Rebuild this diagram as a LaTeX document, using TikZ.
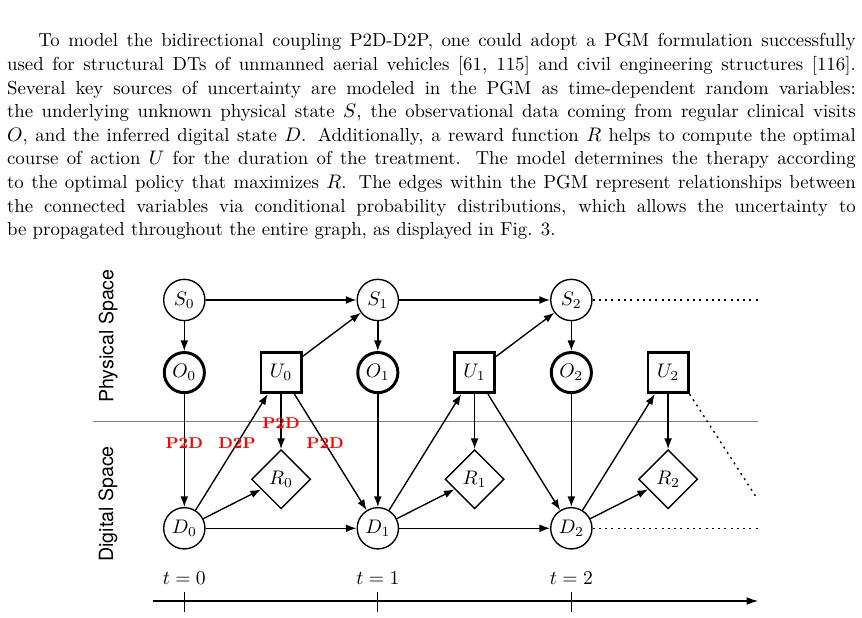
\documentclass[tikz,border=0pt]{standalone}
\usepackage{amsmath}
\usepackage{fontspec}
\usepackage{tikz}
\usetikzlibrary{calc}
\usetikzlibrary{arrows.meta}
\usetikzlibrary{shapes.geometric}
\newfontfamily\heros{TeX Gyre Heros}
\tikzset{
	state/.style={circle, draw, line width=0.7pt, minimum size=0.74cm, inner sep=0pt},
	obs/.style={circle, draw, line width=1.5pt, minimum size=0.72cm, inner sep=0pt},
	act/.style={rectangle, draw, line width=1.5pt, minimum size=0.72cm, inner sep=0pt},
	rew/.style={diamond, draw, line width=0.7pt, minimum size=1.06cm, inner sep=0pt},
	edge/.style={-{Latex[length=5.4pt, width=4pt]}, line width=0.7pt},
	link/.style={font=\footnotesize\bfseries, text=red, inner sep=1pt},
	cont/.style={line width=0.7pt, dash pattern=on 1pt off 2.2pt},
}

\begin{document}
\begin{tikzpicture}
			\useasboundingbox (-3.305,-1.608) rectangle (12.152,9.473);
			% text above the figure
			\node[anchor=north west, inner sep=0pt, text width=433pt, align=left, font=\fontsize{9.6}{12.04}\selectfont] (para) at (-3.185,8.935) {%
				\spaceskip=0pt \xspaceskip=0pt
				\makebox[433pt][s]{\strut\hspace*{16pt}To model the bidirectional coupling P2D-D2P, one could adopt a PGM formulation successfully}\\
				\makebox[433pt][s]{used for structural DTs of unmanned aerial vehicles [61, 115] and civil engineering structures [116].}\\
				\makebox[433pt][s]{Several key sources of uncertainty are modeled in the PGM as time-dependent random variables:}\\
				\makebox[433pt][s]{the underlying unknown physical state \(S\), the observational data coming from regular clinical visits}\\
				\makebox[433pt][s]{\(O\), and the inferred digital state \(D\). Additionally, a reward function \(R\) helps to compute the optimal}\\
				\makebox[433pt][s]{course of action \(U\) for the duration of the treatment. The model determines the therapy according}\\
				\makebox[433pt][s]{to the optimal policy that maximizes \(R\). The edges within the PGM represent relationships between}\\
				\makebox[433pt][s]{the connected variables via conditional probability distributions, which allows the uncertainty to}\\
				be propagated throughout the entire graph, as displayed in Fig. 3.};
			% spaces
			\coordinate (gl) at (-1.636,1.911);
			\coordinate (gr) at (10.287,1.911);
			\draw[gray] (gl) -- (gr);
			\node[rotate=90, font=\heros] (phys) at (-1.363,3.448) {Physical Space};
			\node[rotate=90, font=\heros] (dig) at (-1.368,0.436) {Digital Space};
			% nodes
			\foreach \i in {0,1,2}{
				\pgfmathsetmacro\x{\i * 3.47}
				\node[state] (S\i) at (\x,4.094) {\(S_\i\)};
				\node[obs] (O\i) at (\x,2.792) {\(O_\i\)};
				\node[state] (D\i) at (\x,0) {\(D_\i\)};
				\node[act] (U\i) at (\x+1.735,2.792) {\(U_\i\)};
				\node[rew] (R\i) at (\x+1.735,0.879) {\(R_\i\)};
				\node[anchor=base] (t\i) at (\x,-1.0) {\(t = \i\)};
				\draw[edge] (S\i) -- (O\i);
				\draw[edge] (O\i) -- (D\i);
				\draw[edge] (D\i) -- (U\i);
				\draw[edge] (D\i) -- (R\i);
				\draw[edge] (U\i) -- (R\i);};
			\foreach \i/\j in {0/1, 1/2}{
				\draw[edge] (S\i) -- (S\j);
				\draw[edge] (D\i) -- (D\j);
				\draw[edge] (U\i) -- (S\j);
				\draw[edge] (U\i) -- (D\j);};
			% coupling labels
			\path (O0) -- (D0) node[link, pos=0.437] (pd0) {P2D};
			\path (D0) -- (U0) node[link, pos=0.574] (dp0) {D2P};
			\path (U0) -- (R0) node[link, pos=0.52] (pd1) {P2D};
			\path (U0) -- (D1) node[link, pos=0.4255] (pd2) {P2D};
			% continuation
			\coordinate (Send) at (10.32,4.094);
			\coordinate (Dend) at (10.32,0);
			\coordinate (Uend) at (10.25,0.567);
			\draw[cont] (S2) -- (Send);
			\draw[cont] (D2) -- (Dend);
			\draw[cont] (U2.south east) -- (Uend);
			% time axis
			\coordinate (a0) at (-0.567,-1.304);
			\coordinate (a1) at (10.292,-1.304);
			\draw[-{Latex[length=6pt, width=4pt]}, line width=0.7pt] (a0) -- (a1);
			\foreach \i in {0,1,2}{
				\draw ($(t\i.base)+(0,-0.134)$) -- ($(t\i.base)+(0,-0.494)$);};
		\end{tikzpicture}
\end{document}
